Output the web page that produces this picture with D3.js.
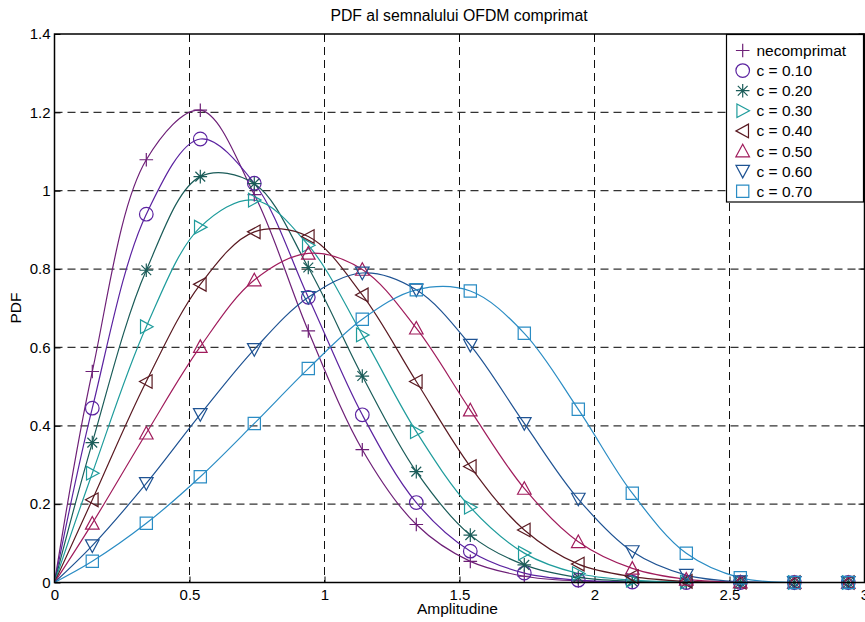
<!DOCTYPE html>
<html>
<head>
<meta charset="utf-8">
<script src="https://cdn.jsdelivr.net/npm/d3@7"></script>
<style>
  html, body { margin: 0; padding: 0; background: #fff; }
  svg { display: block; font-family: "Liberation Sans", Arial, Helvetica, sans-serif; }
</style>
</head>
<body>
<svg id="chart" width="865" height="622"></svg>
<script>
// ---- Data ----
const xs = [0, 0.14, 0.34, 0.54, 0.74, 0.94, 1.14, 1.34, 1.54, 1.74, 1.94, 2.14, 2.34, 2.54, 2.74, 2.94, 3.0];
const markerIdx = [1, 2, 3, 4, 5, 6, 7, 8, 9, 10, 11, 12, 13, 14, 15];

const seriesNames = ["necomprimat", "c = 0.10", "c = 0.20", "c = 0.30", "c = 0.40", "c = 0.50", "c = 0.60", "c = 0.70"];
const yNecomprimat = [0, 0.5385, 1.079, 1.2055, 0.990, 0.642, 0.339, 0.148, 0.054, 0.016, 0.004, 0.001, 0, 0, 0, 0, 0];
const yC10 = [0, 0.445, 0.940, 1.132, 1.019, 0.728, 0.428, 0.204, 0.080, 0.024, 0.006, 0.001, 0, 0, 0, 0, 0];
const yC20 = [0, 0.357, 0.797, 1.036, 1.018, 0.804, 0.527, 0.283, 0.121, 0.045, 0.013, 0.003, 0.0005, 0, 0, 0, 0];
const yC30 = [0, 0.279, 0.653, 0.907, 0.976, 0.861, 0.632, 0.385, 0.192, 0.075, 0.023, 0.006, 0.001, 0, 0, 0, 0];
const yC40 = [0, 0.211, 0.513, 0.761, 0.895, 0.883, 0.734, 0.513, 0.296, 0.134, 0.047, 0.015, 0.003, 0.0005, 0, 0, 0];
const yC50 = [0, 0.151, 0.381, 0.602, 0.772, 0.840, 0.799, 0.649, 0.440, 0.240, 0.104, 0.036, 0.008, 0.001, 0, 0, 0];
const yC60 = [0, 0.094, 0.253, 0.429, 0.595, 0.728, 0.790, 0.747, 0.606, 0.406, 0.213, 0.079, 0.019, 0.002, 0, 0, 0];
const yC70 = [0, 0.054, 0.151, 0.270, 0.406, 0.546, 0.672, 0.747, 0.744, 0.636, 0.442, 0.228, 0.0745, 0.012, 0, 0, 0];
const seriesValues = [yNecomprimat, yC10, yC20, yC30, yC40, yC50, yC60, yC70];
const seriesColors = ["#6e2077", "#5b23a0", "#1b5c59", "#1f9c9c", "#5a1a22", "#a01c5c", "#1f5393", "#2a8cc4"];
const seriesMarkers = ["plus", "circle", "star", "triR", "triL", "triU", "triD", "square"];

const xTicks = [0, 0.5, 1, 1.5, 2, 2.5, 3];
const xTickLabels = ["0", "0.5", "1", "1.5", "2", "2.5", "3"];
const yTicks = [0, 0.2, 0.4, 0.6, 0.8, 1, 1.2, 1.4];
const yTickLabels = ["0", "0.2", "0.4", "0.6", "0.8", "1", "1.2", "1.4"];

const titleText = "PDF al semnalului OFDM comprimat";
const xLabelText = "Amplitudine";
const yLabelText = "PDF";

// ---- Layout ----
const svg = d3.select("#chart");
const L = 54.5, R = 864.5, T = 34, B = 582.5;
const x = d3.scaleLinear().domain([0, 3]).range([L, R]);
const y = d3.scaleLinear().domain([0, 1.4]).range([B, T]);

// grid
const grid = svg.append("g");
xTicks.slice(1, -1).forEach(t => {
  grid.append("line").attr("x1", x(t)).attr("x2", x(t)).attr("y1", T).attr("y2", B)
    .attr("stroke", "#111").attr("stroke-width", 1).attr("stroke-dasharray", "8,5");
});
yTicks.slice(1, -1).forEach(t => {
  grid.append("line").attr("x1", L).attr("x2", R).attr("y1", y(t)).attr("y2", y(t))
    .attr("stroke", "#333").attr("stroke-width", 1.2).attr("stroke-dasharray", "8,5");
});

// axes with D3 axis generators (ticks drawn inside)
const xAxis = svg.append("g").attr("transform", `translate(0,${B})`)
  .call(d3.axisBottom(x).tickValues(xTicks).tickFormat((d, i) => xTickLabels[i]).tickSizeInner(-6).tickSizeOuter(0).tickPadding(7));
const yAxis = svg.append("g").attr("transform", `translate(${L},0)`)
  .call(d3.axisLeft(y).tickValues(yTicks).tickFormat((d, i) => yTickLabels[i]).tickSizeInner(-6).tickSizeOuter(0).tickPadding(4));
[xAxis, yAxis].forEach(g => {
  g.select(".domain").remove();
  g.selectAll("line").attr("stroke", "#000");
  g.selectAll("text").attr("font-size", 15).attr("fill", "#000").attr("font-family", "Liberation Sans, Arial, sans-serif");
});
// top/right inside ticks
const topTicks = svg.append("g");
xTicks.forEach(t => topTicks.append("line").attr("x1", x(t)).attr("x2", x(t)).attr("y1", T).attr("y2", T + 6).attr("stroke", "#000"));
yTicks.forEach(t => topTicks.append("line").attr("x1", R - 6).attr("x2", R).attr("y1", y(t)).attr("y2", y(t)).attr("stroke", "#000"));

// clip
svg.append("clipPath").attr("id", "clip").append("rect").attr("x", L).attr("y", T).attr("width", R - L).attr("height", B - T);

// marker symbol paths
function markerPath(type, s) {
  switch (type) {
    case "plus": return `M${-s},0H${s}M0,${-s}V${s}`;
    case "circle": return `M${s},0A${s},${s} 0 1,1 ${-s},0A${s},${s} 0 1,1 ${s},0Z`;
    case "star": { const d = s * 0.72; return `M${-s},0H${s}M0,${-s}V${s}M${-d},${-d}L${d},${d}M${-d},${d}L${d},${-d}`; }
    case "triR": return `M${-s * 0.85},${-s}L${s},0L${-s * 0.85},${s}Z`;
    case "triL": return `M${s * 0.85},${-s}L${-s},0L${s * 0.85},${s}Z`;
    case "triU": return `M${-s},${s * 0.85}L0,${-s}L${s},${s * 0.85}Z`;
    case "triD": return `M${-s},${-s * 0.85}L0,${s}L${s},${-s * 0.85}Z`;
    case "square": return `M${-s * 0.9},${-s * 0.9}H${s * 0.9}V${s * 0.9}H${-s * 0.9}Z`;
  }
}

// lines
const plot = svg.append("g").attr("clip-path", "url(#clip)");
const lineGen = d3.line().x(d => x(d[0])).y(d => y(d[1])).curve(d3.curveCatmullRom.alpha(0.5));
seriesValues.forEach((vals, si) => {
  const pts = xs.map((xv, i) => [xv, vals[i]]);
  plot.append("path").attr("d", lineGen(pts)).attr("fill", "none")
    .attr("stroke", seriesColors[si]).attr("stroke-width", 1.2);
});
// markers
const mk = svg.append("g");
seriesValues.forEach((vals, si) => {
  markerIdx.forEach(i => {
    mk.append("path").attr("d", markerPath(seriesMarkers[si], 6.8))
      .attr("transform", `translate(${x(xs[i])},${y(vals[i])})`)
      .attr("fill", "none").attr("stroke", seriesColors[si]).attr("stroke-width", 1.2);
  });
});

// axis box
svg.append("rect").attr("x", L).attr("y", T).attr("width", R - L).attr("height", B - T)
  .attr("fill", "none").attr("stroke", "#000").attr("stroke-width", 1.5);

// legend
const lg = svg.append("g");
lg.append("rect").attr("x", 726.5).attr("y", 34.5).attr("width", 137).attr("height", 167.5)
  .attr("fill", "#fff").attr("stroke", "#000").attr("stroke-width", 1.2);
seriesNames.forEach((name, i) => {
  const cy = 50.5 + i * 20.1;
  lg.append("path").attr("d", markerPath(seriesMarkers[i], 6.8))
    .attr("transform", `translate(742.7,${cy})`)
    .attr("fill", "none").attr("stroke", seriesColors[i]).attr("stroke-width", 1.2);
  lg.append("text").attr("x", 756.5).attr("y", cy).attr("dy", "0.36em")
    .attr("font-size", 15.5).attr("fill", "#000").text(name);
});

// title and labels
svg.append("text").attr("x", 459).attr("y", 21).attr("text-anchor", "middle")
  .attr("font-size", 15.8).attr("fill", "#000").text(titleText);
svg.append("text").attr("x", 457.5).attr("y", 614).attr("text-anchor", "middle")
  .attr("font-size", 15.5).attr("fill", "#000").text(xLabelText);
svg.append("text").attr("transform", "translate(21,308) rotate(-90)").attr("text-anchor", "middle")
  .attr("font-size", 15.5).attr("fill", "#000").text(yLabelText);
</script>
</body>
</html>
